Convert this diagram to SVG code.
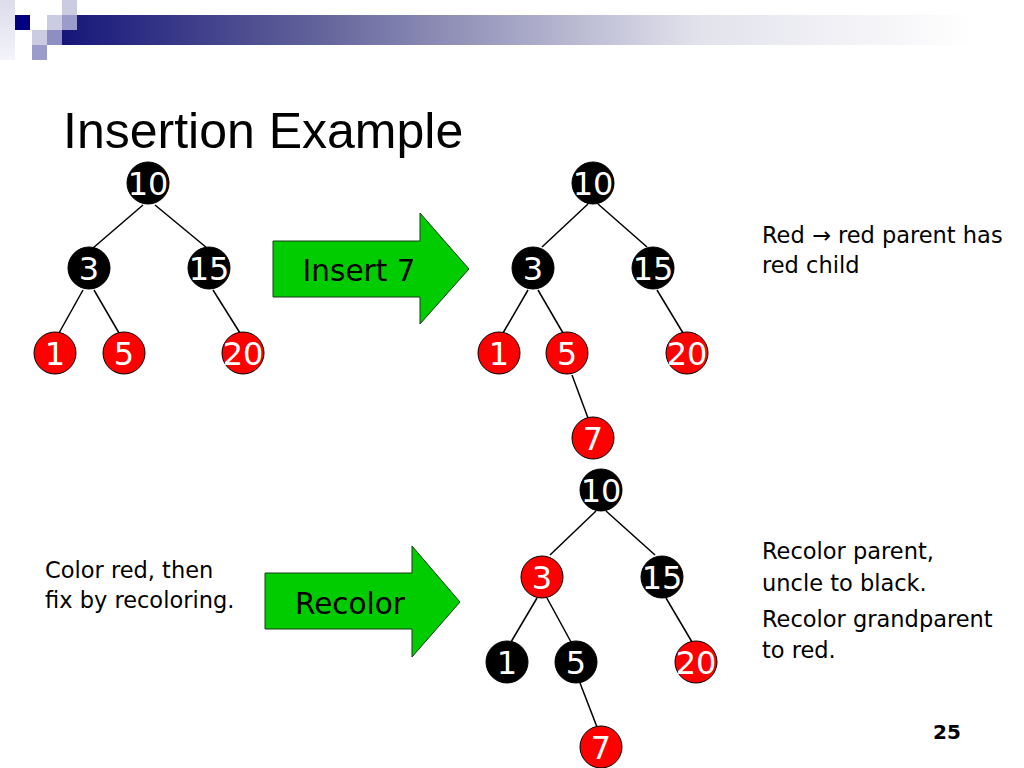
<svg xmlns="http://www.w3.org/2000/svg" width="1024" height="768" viewBox="0 0 1024 768">
<style>
.edge{stroke:#000;stroke-width:1.5;fill:none}
.b{fill:#000;stroke:#000;stroke-width:1}
.r{fill:#f00;stroke:#000;stroke-width:1}
.nl{font-family:"DejaVu Sans",Verdana,sans-serif;font-size:32px;fill:#fff;text-anchor:middle}
.arr{fill:#00cc00;stroke:#1a3a1a;stroke-width:1}
.al{font-family:"DejaVu Sans",Verdana,sans-serif;font-size:29.5px;fill:#000;text-anchor:middle}
.tx{font-family:"DejaVu Sans",Verdana,sans-serif;font-size:22.5px;fill:#000}
</style>
<defs>
<linearGradient id="bar" x1="62" y1="0" x2="1024" y2="0" gradientUnits="userSpaceOnUse">
<stop offset="0" stop-color="#16167a"/>
<stop offset="0.25" stop-color="#5e5e98"/>
<stop offset="0.66" stop-color="#e2e2ec"/>
<stop offset="0.95" stop-color="#ffffff"/>
</linearGradient>
<linearGradient id="side" x1="0" y1="0" x2="0" y2="1">
<stop offset="0" stop-color="#dcdcec"/>
<stop offset="1" stop-color="#f4f4fa"/>
</linearGradient>
</defs>
<rect width="1024" height="768" fill="#fff"/>
<g id="decoration">
<rect x="0" y="0" width="15" height="60" fill="url(#side)"/>
<rect x="62" y="15" width="962" height="30" fill="url(#bar)"/>
<rect x="15" y="15" width="15" height="15" fill="#000080"/>
<rect x="47" y="15" width="15" height="15" fill="#cbcbe2"/>
<rect x="62" y="15" width="15" height="15" fill="#9b9bcc"/>
<rect x="62" y="0" width="15" height="15" fill="#cbcbe2"/>
<rect x="32" y="30" width="15" height="15" fill="#cbcbe2"/>
<rect x="47" y="30" width="15" height="15" fill="#8e8ec2"/>
<rect x="32" y="45" width="15" height="15" fill="#9b9bcc"/>
</g>
<text id="title" x="63" y="148" font-family="Liberation Sans,Arial,sans-serif" font-size="50" fill="#000">Insertion Example</text>
<g id="connectors">
<line class="edge" x1="143" y1="205" x2="93" y2="248"/>
<line class="edge" x1="155" y1="205" x2="207" y2="248"/>
<line class="edge" x1="83" y1="290" x2="59" y2="333"/>
<line class="edge" x1="94" y1="290" x2="119" y2="333"/>
<line class="edge" x1="213" y1="290" x2="240" y2="333"/>
<line class="edge" x1="588" y1="204" x2="542" y2="247"/>
<line class="edge" x1="598" y1="204" x2="647" y2="247"/>
<line class="edge" x1="528" y1="290" x2="503" y2="333"/>
<line class="edge" x1="538" y1="290" x2="563" y2="333"/>
<line class="edge" x1="657" y1="290" x2="683" y2="333"/>
<line class="edge" x1="572" y1="375" x2="588" y2="418"/>
<line class="edge" x1="596" y1="511" x2="550" y2="555"/>
<line class="edge" x1="606" y1="511" x2="655" y2="555"/>
<line class="edge" x1="537" y1="598" x2="511" y2="642"/>
<line class="edge" x1="547" y1="598" x2="571" y2="642"/>
<line class="edge" x1="666" y1="598" x2="692" y2="642"/>
<line class="edge" x1="580" y1="683" x2="597" y2="727"/>
</g>
<g id="t1-10"><circle class="b" cx="148" cy="183" r="21"/><text class="nl" x="148" y="195">10</text></g>
<g id="t1-3"><circle class="b" cx="89" cy="268" r="21"/><text class="nl" x="89" y="280">3</text></g>
<g id="t1-15"><circle class="b" cx="209" cy="268" r="21"/><text class="nl" x="209" y="280">15</text></g>
<g id="t1-1"><circle class="r" cx="55" cy="353" r="21"/><text class="nl" x="55" y="365">1</text></g>
<g id="t1-5"><circle class="r" cx="124" cy="353" r="21"/><text class="nl" x="124" y="365">5</text></g>
<g id="t1-20"><circle class="r" cx="243" cy="353" r="21"/><text class="nl" x="243" y="365">20</text></g>

<g id="t2-10"><circle class="b" cx="593" cy="183" r="21"/><text class="nl" x="593" y="195">10</text></g>
<g id="t2-3"><circle class="b" cx="533" cy="268" r="21"/><text class="nl" x="533" y="280">3</text></g>
<g id="t2-15"><circle class="b" cx="653" cy="268" r="21"/><text class="nl" x="653" y="280">15</text></g>
<g id="t2-1"><circle class="r" cx="499" cy="353" r="21"/><text class="nl" x="499" y="365">1</text></g>
<g id="t2-5"><circle class="r" cx="567" cy="353" r="21"/><text class="nl" x="567" y="365">5</text></g>
<g id="t2-20"><circle class="r" cx="687" cy="353" r="21"/><text class="nl" x="687" y="365">20</text></g>
<g id="t2-7"><circle class="r" cx="593" cy="438" r="21"/><text class="nl" x="593" y="450">7</text></g>

<g id="t3-10"><circle class="b" cx="601" cy="490" r="21"/><text class="nl" x="601" y="502">10</text></g>
<g id="t3-3"><circle class="r" cx="542" cy="577" r="21"/><text class="nl" x="542" y="589">3</text></g>
<g id="t3-15"><circle class="b" cx="662" cy="577" r="21"/><text class="nl" x="662" y="589">15</text></g>
<g id="t3-1"><circle class="b" cx="507" cy="662" r="21"/><text class="nl" x="507" y="674">1</text></g>
<g id="t3-5"><circle class="b" cx="576" cy="662" r="21"/><text class="nl" x="576" y="674">5</text></g>
<g id="t3-20"><circle class="r" cx="696" cy="662" r="21"/><text class="nl" x="696" y="674">20</text></g>
<g id="t3-7"><circle class="r" cx="601" cy="747" r="21"/><text class="nl" x="601" y="759">7</text></g>

<g id="arrow-insert"><polygon class="arr" points="273,241 420,241 420,213 469,269 420,324 420,297 273,297"/><text class="al" x="359" y="281">Insert 7</text></g>
<g id="arrow-recolor"><polygon class="arr" points="265,573 412,573 412,546 460,602 412,657 412,629 265,629"/><text class="al" x="350" y="614">Recolor</text></g>

<g id="note1"><text class="tx" x="762" y="243">Red → red parent has</text><text class="tx" x="762" y="273">red child</text></g>
<g id="note2"><text class="tx" x="45" y="578">Color red, then</text><text class="tx" x="45" y="608">fix by recoloring.</text></g>
<g id="note3"><text class="tx" x="762" y="559">Recolor parent,</text><text class="tx" x="762" y="591">uncle to black.</text><text class="tx" x="762" y="627">Recolor grandparent</text><text class="tx" x="762" y="658">to red.</text></g>
<text id="page" x="947" y="739" font-family="DejaVu Sans,Verdana,sans-serif" font-weight="bold" font-size="20" text-anchor="middle" fill="#000">25</text>
</svg>
